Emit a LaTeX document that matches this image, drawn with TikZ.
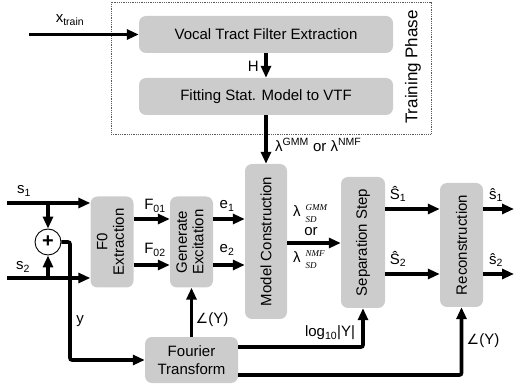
\documentclass[tikz,border=0pt]{standalone}
\usepackage{fontspec}
\usepackage{graphicx}
\setmainfont{Liberation Sans}
\newfontfamily\serifit{Liberation Serif}
\newfontfamily\symfont{DejaVu Sans}
\usetikzlibrary{arrows.meta,calc}
\definecolor{boxgray}{RGB}{204,204,204}
\definecolor{dotgray}{RGB}{90,90,90}
\newcommand{\ang}{{\symfont\fontsize{14}{16}\selectfont ∠}}
\newcommand{\lamsd}[1]{λ\hspace{5pt}{\fontsize{9}{12.5}\selectfont\serifit\itshape\begin{tabular}[c]{@{}l@{}}#1\\SD\end{tabular}}}
\begin{document}
\begin{tikzpicture}[x=1pt,y=-1pt,
  blk/.style={fill=boxgray, rounded corners=7pt, inner sep=0pt, font=\fontsize{15}{17.5}\selectfont},
  conn/.style={line width=3.6pt, rounded corners=2pt, -{Triangle[length=12pt,width=10pt]}},
  lbl/.style={inner sep=0pt, font=\fontsize{15}{17}\selectfont}
]
\useasboundingbox (0,0) rectangle (514,387);

% training phase
\node[draw=dotgray, densely dotted, line width=0.8pt, minimum width=320pt, minimum height=132pt, inner sep=0pt] (train) at (271,68) {};
\node[lbl, rotate=90, font=\fontsize{17}{19}\selectfont] (trainlbl) at (413,67) {Training Phase};
\node[blk, minimum width=254pt, minimum height=37pt] (vtfe) at (266,34.5) {Vocal Tract Filter Extraction};
\node[blk, minimum width=254pt, minimum height=37pt] (fit) at (266,96.5) {Fitting Stat. Model to VTF};

% main blocks
\node[blk, minimum width=43pt, minimum height=91pt] (f0) at (112,242) {\rotatebox{90}{\begin{tabular}{@{}c@{}}F0\\[-1pt]Extraction\end{tabular}}};
\node[blk, minimum width=43pt, minimum height=91pt] (gen) at (191.5,242) {\rotatebox{90}{\begin{tabular}{@{}c@{}}Generate\\[-1pt]Excitation\end{tabular}}};
\node[blk, minimum width=42pt, minimum height=155pt] (model) at (266,241.5) {\rotatebox{90}{Model Construction}};
\node[blk, minimum width=44pt, minimum height=131pt] (sep) at (363,242.5) {\rotatebox{90}{Separation Step}};
\node[blk, minimum width=43pt, minimum height=124pt] (rec) at (461.5,245) {\rotatebox{90}{Reconstruction}};
\node[blk, minimum width=93pt, minimum height=46pt, align=center] (ft) at (191.5,360) {Fourier\\Transform};
\node[circle, draw, fill=white, line width=0.9pt, minimum size=26pt, inner sep=0pt, font=\bfseries\fontsize{20}{20}\selectfont] (sum) at (48,242) {+};

% coordinates
\coordinate (xin) at (29,34.5);
\coordinate (in1) at (7,203);
\coordinate (in2) at (7,278);
\coordinate (out1) at (514,209);
\coordinate (out2) at (514,274);
\coordinate (rA) at (0,219);
\coordinate (rB) at (0,265);
\coordinate (rM) at (0,243);
\coordinate (rS1) at (0,209);
\coordinate (rS2) at (0,274);
\coordinate (rL) at (0,347);
\coordinate (rP) at (0,375);
\coordinate (yc) at (70,360);

% connectors
\draw[conn] (xin) -- (vtfe.west);
\draw[conn] (vtfe.south) -- (fit.north);
\draw[conn] (fit.south) -- (model.north);
\draw[conn] (in1) -- (f0.west|-in1);
\draw[conn] (in2) -- (f0.west|-in2);
\draw[conn] (sum|-in1) -- (sum.north);
\draw[conn] (sum|-in2) -- (sum.south);
\draw[conn] (sum.east) -| (yc) -- (ft.west);
\draw[conn] (f0.east|-rA) -- (gen.west|-rA);
\draw[conn] (f0.east|-rB) -- (gen.west|-rB);
\draw[conn] (gen.east|-rA) -- (model.west|-rA);
\draw[conn] (gen.east|-rB) -- (model.west|-rB);
\draw[conn] (ft.north) -- (gen.south);
\draw[conn] (model.east|-rM) -- (sep.west|-rM);
\draw[conn] (sep.east|-rS1) -- (rec.west|-rS1);
\draw[conn] (sep.east|-rS2) -- (rec.west|-rS2);
\draw[conn] (rec.east|-rS1) -- (out1);
\draw[conn] (rec.east|-rS2) -- (out2);
\draw[conn] (ft.east|-rL) -| (sep.south);
\draw[conn] (ft.east|-rP) -| (rec.south);

% labels
\node[lbl] (lx) at (70,20) {x\textsubscript{train}};
\node[lbl, anchor=east] (lh) at (259,66) {H};
\node[lbl, anchor=west] (llam) at (275,145) {λ\textsuperscript{GMM} or λ\textsuperscript{NMF}};
\node[lbl] (ls1) at (24,191) {s\textsubscript{1}};
\node[lbl] (ls2) at (23,267) {s\textsubscript{2}};
\node[lbl] (lf1) at (155,206) {F\textsubscript{01}};
\node[lbl] (lf2) at (155,250) {F\textsubscript{02}};
\node[lbl] (le1) at (227,206) {e\textsubscript{1}};
\node[lbl] (le2) at (227,250) {e\textsubscript{2}};
\node[lbl] (ly) at (80,321) {y};
\node[lbl] (lang1) at (212,320) {\ang(Y)};
\node[lbl] (llog) at (330,333) {log\textsubscript{10}|Y|};
\node[lbl] (lang2) at (483,341) {\ang(Y)};
\node[lbl, anchor=west] (lg1) at (293,214) {\lamsd{GMM}};
\node[lbl] (lor) at (311,232) {or};
\node[lbl, anchor=west] (lg2) at (293,260) {\lamsd{NMF}};
\node[lbl] (lS1) at (398,194) {Ŝ\textsubscript{1}};
\node[lbl] (lS2) at (398,259) {Ŝ\textsubscript{2}};
\node[lbl] (ls1h) at (496,195) {ŝ\textsubscript{1}};
\node[lbl] (ls2h) at (496,260) {ŝ\textsubscript{2}};
\end{tikzpicture}
\end{document}
